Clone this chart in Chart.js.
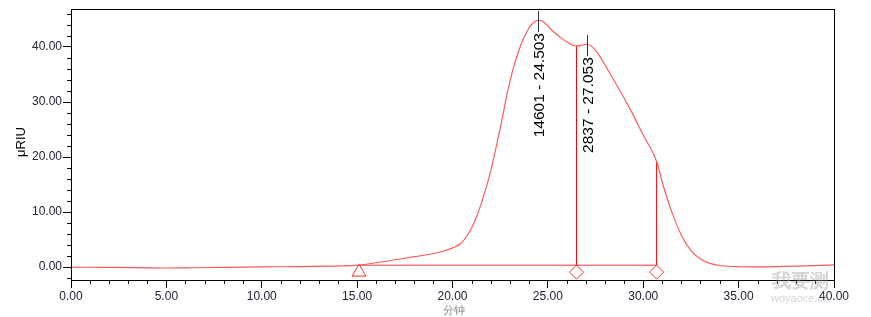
<!DOCTYPE html>
<html>
<head>
<meta charset="utf-8">
<script src="https://cdn.jsdelivr.net/npm/chart.js@4/dist/chart.umd.min.js"></script>
<style>
body{margin:0;background:#fff;}
</style>
</head>
<body>
<canvas id="chart" width="871" height="317"></canvas>
<script>
// trace (minutes, µRIU)
const times  = [0, 2, 4, 5, 6, 8, 10, 12, 13.5, 15.1, 16, 17, 18, 18.8, 19.5, 20, 20.4, 20.8, 21.2, 21.6, 22, 22.5, 23, 23.5, 24, 24.25, 24.5, 24.8, 25.1, 25.6, 26, 26.5, 27.05, 27.5, 28.2, 29.3, 30, 30.7, 31.1, 31.5, 32, 32.5, 33, 33.5, 34, 35, 36, 38, 40];
const signal = [0, -0.05, -0.12, -0.15, -0.12, -0.05, 0.05, 0.1, 0.18, 0.36, 0.8, 1.35, 1.9, 2.35, 2.9, 3.5, 4.2, 5.9, 8.6, 12.6, 17.4, 25.2, 33.6, 39.6, 43.4, 44.4, 44.9, 44.5, 43.4, 41.9, 40.9, 40.2, 40.5, 39.4, 35.5, 28.8, 24, 19.2, 14.2, 10.0, 5.8, 3.0, 1.5, 0.7, 0.3, 0.08, 0.05, 0.2, 0.4];

const peakTimes   = [24.503, 27.053];
const peakAreas   = [14601, 2837];
const peakHeights = [44.9, 40.5];

const dropTimes   = [26.5, 30.7];
const dropHeights = [40.2, 19.2];
const baseStart = 15.1;
const baseLevel = 0.36;
const markerLevel = -0.9;

const xTicks = [0, 5, 10, 15, 20, 25, 30, 35, 40];
const yTicks = [0, 10, 20, 30, 40];
const xMinor = [];
for (let v = 1; v < 40; v++) if (v % 5 !== 0) xMinor.push(v);
const yMinor = [-2, 2, 4, 6, 8, 12, 14, 16, 18, 22, 24, 26, 28, 32, 34, 36, 38, 42, 44, 46];

const FONT = "'Liberation Sans', Arial, sans-serif";

const trace = times.map((t, i) => ({x: t, y: signal[i]}));
const endTime = dropTimes[dropTimes.length - 1];

const datasets = [
    {data: trace, borderColor: '#ff5a5a', borderWidth: 1.2, pointRadius: 0, cubicInterpolationMode: 'monotone'},
    {data: [{x: baseStart, y: baseLevel}, {x: endTime, y: baseLevel}], borderColor: '#ff3b3b', borderWidth: 1, pointRadius: 0}
];
dropTimes.forEach((t, i) => {
    datasets.push({data: [{x: t, y: baseLevel}, {x: t, y: dropHeights[i]}], borderColor: '#ff0000', borderWidth: 1, pointRadius: 0});
});
datasets.push({
    data: [{x: baseStart, y: markerLevel}],
    showLine: false, pointStyle: 'triangle', pointRadius: 8,
    borderColor: '#ff3030', backgroundColor: '#fff', borderWidth: 1
});
datasets.push({
    data: dropTimes.map(t => ({x: t, y: markerLevel})),
    showLine: false, pointStyle: 'rectRot', pointRadius: 7,
    borderColor: '#ff3030', backgroundColor: '#fff', borderWidth: 1
});

const extras = {
    id: 'extras',
    afterDraw(chart) {
        const ctx = chart.ctx;
        const a = chart.chartArea;
        const xs = chart.scales.x, ys = chart.scales.y;
        ctx.save();
        // frame
        ctx.strokeStyle = '#000';
        ctx.lineWidth = 1;
        ctx.strokeRect(a.left + 0.5, a.top + 0.5, a.right - a.left, a.bottom - a.top);
        // minor ticks
        ctx.beginPath();
        xMinor.forEach(v => {
            const p = Math.round(xs.getPixelForValue(v)) + 0.5;
            ctx.moveTo(p, a.bottom); ctx.lineTo(p, a.bottom + 4);
        });
        yMinor.forEach(v => {
            const p = Math.round(ys.getPixelForValue(v)) + 0.5;
            ctx.moveTo(a.left, p); ctx.lineTo(a.left - 4, p);
        });
        ctx.stroke();
        // peak labels
        ctx.fillStyle = '#000';
        ctx.font = '15.5px ' + FONT;
        peakTimes.forEach((t, i) => {
            const px = Math.round(xs.getPixelForValue(t)) + 0.5;
            const py = ys.getPixelForValue(peakHeights[i]);
            ctx.strokeStyle = '#333';
            ctx.beginPath();
            ctx.moveTo(px, py - 9); ctx.lineTo(px, py + 12);
            ctx.stroke();
            ctx.save();
            ctx.translate(px + 1, py + 13);
            ctx.rotate(-Math.PI / 2);
            ctx.textAlign = 'right';
            ctx.textBaseline = 'middle';
            ctx.fillText(peakAreas[i] + ' - ' + t.toFixed(3), 0, 0);
            ctx.restore();
        });
        // axis titles
        ctx.font = '13px ' + FONT;
        ctx.save();
        ctx.translate(21, 142);
        ctx.rotate(-Math.PI / 2);
        ctx.textAlign = 'center';
        ctx.textBaseline = 'middle';
        ctx.fillText('μRIU', 0, 0);
        ctx.restore();
        ctx.fillStyle = '#888';
        ctx.font = '11px ' + FONT;
        ctx.textAlign = 'center';
        ctx.textBaseline = 'middle';
        ctx.fillText('分钟', 454, 311);
        // watermark
        ctx.fillStyle = 'rgba(160,160,160,0.45)';
        ctx.font = 'bold 19px ' + FONT;
        ctx.fillText('我要测', 800, 282);
        ctx.font = '11px ' + FONT;
        ctx.fillText('woyaoce.cn', 800, 299);
        ctx.restore();
    }
};

new Chart(document.getElementById('chart'), {
    type: 'line',
    data: {datasets},
    options: {
        responsive: false,
        animation: false,
        layout: {padding: {top: 5, right: 37, left: 0, bottom: 0}},
        plugins: {legend: {display: false}, tooltip: {enabled: false}},
        scales: {
            x: {
                type: 'linear', min: 0, max: 40,
                afterBuildTicks: s => { s.ticks = xTicks.map(v => ({value: v})); },
                afterFit: s => { s.height = 37; },
                grid: {drawOnChartArea: false, tickLength: 8, tickColor: '#000'},
                border: {display: false},
                ticks: {font: {family: FONT, size: 12}, color: '#222238', padding: 1, maxRotation: 0,
                        callback: v => v.toFixed(2)}
            },
            y: {
                type: 'linear', min: -2.33, max: 46.9,
                afterBuildTicks: s => { s.ticks = yTicks.map(v => ({value: v})); },
                afterFit: s => { s.width = 71; },
                grid: {drawOnChartArea: false, tickLength: 8, tickColor: '#000'},
                border: {display: false},
                ticks: {font: {family: FONT, size: 12}, color: '#222238', padding: 1,
                        callback: v => v.toFixed(2)}
            }
        }
    },
    plugins: [extras]
});
</script>
</body>
</html>
